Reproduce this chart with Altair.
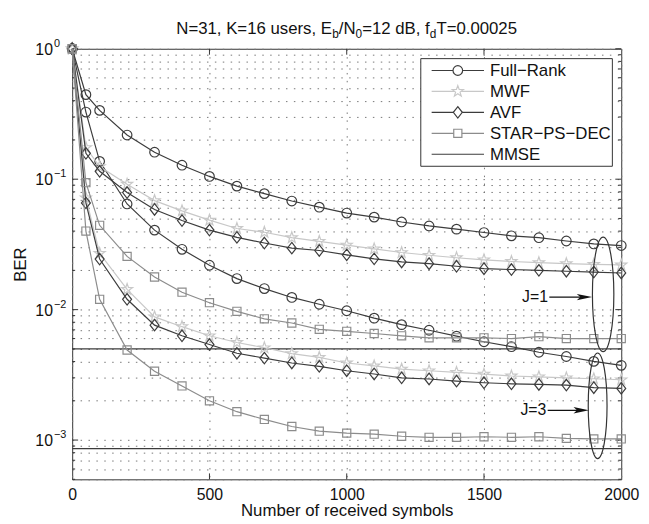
import math
import altair as alt
import pandas as pd

# ---------------- data ----------------
symbols = [0, 50, 100, 200, 300, 400, 500, 600, 700, 800, 900, 1000,
           1100, 1200, 1300, 1400, 1500, 1600, 1700, 1800, 1900, 2000]

full_rank_j1 = [1.0, 0.445, 0.337, 0.218, 0.161, 0.128, 0.105, 0.0885, 0.0775, 0.068, 0.061,
                0.055, 0.0512, 0.047, 0.0438, 0.0414, 0.039, 0.0368, 0.0356, 0.0336, 0.0319, 0.031]
full_rank_j3 = [1.0, 0.327, 0.137, 0.0646, 0.0407, 0.029, 0.0219, 0.0173, 0.0145, 0.0124, 0.011,
                0.0098, 0.0086, 0.00767, 0.00695, 0.00626, 0.00567, 0.0052, 0.00471, 0.00437, 0.00401, 0.00374]
mwf_j1 = [1.0, 0.175, 0.125, 0.0915, 0.0685, 0.0572, 0.0485, 0.0419, 0.0392, 0.0356, 0.0334,
          0.0312, 0.0292, 0.0274, 0.0261, 0.025, 0.0241, 0.0234, 0.0229, 0.0225, 0.0222, 0.022]
mwf_j3 = [1.0, 0.072, 0.027, 0.0143, 0.0088, 0.0074, 0.0063, 0.0056, 0.0051, 0.0046, 0.0043,
          0.0039, 0.0037, 0.0035, 0.0034, 0.0033, 0.0032, 0.0031, 0.00305, 0.003, 0.00295, 0.0029]
avf_j1 = [1.0, 0.158, 0.115, 0.079, 0.0586, 0.0482, 0.0407, 0.0358, 0.0324, 0.0296, 0.0284,
          0.0263, 0.0245, 0.0232, 0.0225, 0.0215, 0.0206, 0.0203, 0.02, 0.0197, 0.0194, 0.0191]
avf_j3 = [1.0, 0.0658, 0.0244, 0.012, 0.0076, 0.0063, 0.0054, 0.00463, 0.00425, 0.0039, 0.00367,
          0.0034, 0.00321, 0.003, 0.00294, 0.00283, 0.00275, 0.0027, 0.00267, 0.00264, 0.00252, 0.00249]
star_j1 = [1.0, 0.094, 0.0443, 0.0256, 0.0178, 0.0136, 0.0113, 0.0097, 0.0085, 0.0079, 0.00706,
           0.00682, 0.00656, 0.0063, 0.00608, 0.00608, 0.00608, 0.006, 0.0062, 0.006, 0.006, 0.006]
star_j3 = [1.0, 0.040, 0.012, 0.0049, 0.00337, 0.0026, 0.002, 0.00165, 0.00144, 0.00127, 0.00117,
           0.00113, 0.00111, 0.00107, 0.00105, 0.00105, 0.00106, 0.00105, 0.00106, 0.00103, 0.00102, 0.00102]
mmse_levels = [0.005, 0.00086]

legend_names = ["Full\u2212Rank", "MWF", "AVF", "STAR\u2212PS\u2212DEC", "MMSE"]
x_ticks = [0, 500, 1000, 1500, 2000]
y_decades = [0.001, 0.01, 0.1, 1.0]
y_exponents = ["\u22123", "\u22122", "\u22121", "0"]
mantissas = [2, 3, 4, 5, 6, 7, 8, 9]
y_minor = [0.0005, 0.0006, 0.0007, 0.0008, 0.0009] + [m * d for d in [0.001, 0.01, 0.1] for m in mantissas]

# annotations (data coordinates)
j_labels = ["J=1", "J=3"]
j_label_x = [1733, 1727]
j_label_y = [0.01247, 0.00169]
arrow_x_start = [1738, 1732]
arrow_x_end = [1862, 1850]
arrow_head_x = [1866, 1854]
ellipse_x = [1934, 1914]
ellipse_y = [0.0131, 0.00183]

# ---------------- styling ----------------
W, H = 556, 436
DARK = "#3c3c3c"
MID = "#8c8c8c"
LIGHT = "#c8c8c8"
FONT = "Liberation Sans"


def star_path(inner=0.4):
    pts = []
    for k in range(10):
        r = 1.0 if k % 2 == 0 else inner
        a = math.radians(-90 + 36 * k)
        pts.append(f"{r * math.cos(a):.3f},{r * math.sin(a):.3f}")
    return "M " + " L ".join(pts) + " Z"


def ellipse_path(a):
    k = 0.5523
    return (f"M 0,-1 C {a*k:.4f},-1 {a:.4f},-{k} {a:.4f},0 "
            f"C {a:.4f},{k} {a*k:.4f},1 0,1 "
            f"C -{a*k:.4f},1 -{a:.4f},{k} -{a:.4f},0 "
            f"C -{a:.4f},-{k} -{a*k:.4f},-1 0,-1 Z")


STAR = star_path()
DIAMOND = "M 0,-1 L 0.78,0 L 0,1 L -0.78,0 Z"
ARROW = "M 1,0 L -1,-0.42 L -0.55,0 L -1,0.42 Z"

xscale = alt.Scale(domain=[0, 2000], nice=False, zero=False)
yscale = alt.Scale(type="log", domain=[0.0005, 1], nice=False)

xaxis = alt.Axis(values=x_ticks, format="d", grid=True, gridDash=[1.5, 6.5], gridColor="#777", gridWidth=1,
                 ticks=False, domain=False, labelFontSize=16, labelColor="#111", labelPadding=7,
                 labelFlush=False, titleFontSize=17, titleFontWeight="normal", titleColor="#111",
                 titlePadding=1)
yaxis = alt.Axis(values=y_decades + y_minor, grid=True, gridDash=[1.5, 6.5], gridColor="#777",
                 gridWidth=1, ticks=False, domain=False, labels=False, titleFontSize=17,
                 titleFontWeight="normal", titleColor="#111", titleX=-52, titleY=H / 2,
                 titleAngle=270, titleAlign="center", titleBaseline="middle")


def X(field="x"):
    return alt.X(f"{field}:Q", scale=xscale, axis=xaxis, title="Number of received symbols")


def Y(field="y"):
    return alt.Y(f"{field}:Q", scale=yscale, axis=yaxis, title="BER")


one = pd.DataFrame({"k": [0]})

# ---------------- long table ----------------
series = [
    ("Full-Rank", "J=1", full_rank_j1), ("Full-Rank", "J=3", full_rank_j3),
    ("MWF", "J=1", mwf_j1), ("MWF", "J=3", mwf_j3),
    ("AVF", "J=1", avf_j1), ("AVF", "J=3", avf_j3),
    ("STAR-PS-DEC", "J=1", star_j1), ("STAR-PS-DEC", "J=3", star_j3),
]
rows = []
for method, j, vals in series:
    for xv, yv in zip(symbols, vals):
        rows.append({"method": method, "J": j, "x": xv, "y": yv})
df = pd.DataFrame(rows)

styles = {
    "Full-Rank": dict(color=DARK, shape="circle", size=95),
    "MWF": dict(color=LIGHT, shape=STAR, size=140),
    "AVF": dict(color=DARK, shape=DIAMOND, size=135),
    "STAR-PS-DEC": dict(color=MID, shape="square", size=68),
}

layers = []

# inward ticks
tick_x_df = pd.DataFrame({"x": x_ticks[1:-1]})
maj_df = pd.DataFrame({"y": y_decades})
min_df = pd.DataFrame({"y": y_minor})
layers.append(alt.Chart(tick_x_df).mark_rule(color="#333").encode(x=X(), y=alt.value(H), y2=alt.value(H - 6)))
layers.append(alt.Chart(tick_x_df).mark_rule(color="#333").encode(x=X(), y=alt.value(0), y2=alt.value(6)))
layers.append(alt.Chart(maj_df).mark_rule(color="#333").encode(y=Y(), x=alt.value(0), x2=alt.value(6)))
layers.append(alt.Chart(maj_df).mark_rule(color="#333").encode(y=Y(), x=alt.value(W), x2=alt.value(W - 6)))
layers.append(alt.Chart(min_df).mark_rule(color="#333").encode(y=Y(), x=alt.value(0), x2=alt.value(3)))
layers.append(alt.Chart(min_df).mark_rule(color="#333").encode(y=Y(), x=alt.value(W), x2=alt.value(W - 3)))

# MMSE lines
layers.append(alt.Chart(pd.DataFrame({"y": mmse_levels})).mark_rule(color=DARK, strokeWidth=1.3).encode(y=Y()))

for method in ["Full-Rank", "MWF", "AVF", "STAR-PS-DEC"]:
    st = styles[method]
    sub = df[df["method"] == method]
    layers.append(alt.Chart(sub).mark_line(color=st["color"], strokeWidth=1.2).encode(
        x=X(), y=Y(), detail="J:N"))
    layers.append(alt.Chart(sub).mark_point(color=st["color"], shape=st["shape"], size=st["size"],
                                            filled=False, strokeWidth=1.2, opacity=1).encode(x=X(), y=Y()))

# ellipses (custom symbol path spans sqrt(size) pixels)
for ex, ey, a, hpx in zip(ellipse_x, ellipse_y, [0.187, 0.178], [116, 107]):
    layers.append(alt.Chart(pd.DataFrame({"x": [ex], "y": [ey]})).mark_point(
        shape=ellipse_path(a), size=hpx * hpx, color="#333", filled=False, strokeWidth=1.2, opacity=1
    ).encode(x=X(), y=Y()))

# arrows and labels
arr_df = pd.DataFrame({"x": arrow_x_start, "x2": arrow_x_end, "y": j_label_y})
layers.append(alt.Chart(arr_df).mark_rule(color="#111", strokeWidth=1.2).encode(
    x=X(), x2="x2:Q", y=Y()))
head_df = pd.DataFrame({"x": arrow_head_x, "y": j_label_y})
layers.append(alt.Chart(head_df).mark_point(shape=ARROW, size=240, filled=True, color="#111", opacity=1).encode(
    x=X(), y=Y()))
lab_df = pd.DataFrame({"x": j_label_x, "y": j_label_y, "label": j_labels})
layers.append(alt.Chart(lab_df).mark_text(align="right", baseline="middle", fontSize=16, color="#111").encode(
    x=X(), y=Y(), text="label:N"))

# y tick labels 10^k
ylab_df = pd.DataFrame({"y": y_decades, "exp": y_exponents})
layers.append(alt.Chart(ylab_df).mark_text(align="right", baseline="middle", fontSize=16, color="#111", dy=1).encode(
    y=Y(), x=alt.value(-19.5), text=alt.value("10")))
layers.append(alt.Chart(ylab_df).mark_text(align="left", baseline="middle", fontSize=11, color="#111", dy=-5).encode(
    y=Y(), x=alt.value(-18.5), text="exp:N"))

# legend
LX0, LX1, LY0, LY1 = 353, 547, 10, 119
layers.append(alt.Chart(one).mark_rect(fill="white", stroke="#333", strokeWidth=1).encode(
    x=alt.value(LX0), x2=alt.value(LX1), y=alt.value(LY0), y2=alt.value(LY1)))
row_y = [22, 43.2, 64.4, 85.6, 106.8]
leg_styles = [styles["Full-Rank"], styles["MWF"], styles["AVF"], styles["STAR-PS-DEC"], dict(color=DARK)]
for name, ry, st in zip(legend_names, row_y, leg_styles):
    layers.append(alt.Chart(one).mark_rule(color=st["color"], strokeWidth=1.2).encode(
        x=alt.value(364), x2=alt.value(417), y=alt.value(ry)))
    if "shape" in st:
        layers.append(alt.Chart(one).mark_point(color=st["color"], shape=st["shape"], size=st["size"],
                                                filled=False, strokeWidth=1.2, opacity=1,
                                                fill="white").encode(
            x=alt.value(390.5), y=alt.value(ry)))
    layers.append(alt.Chart(one).mark_text(text=name, align="left", baseline="middle", fontSize=17,
                                           color="#111").encode(x=alt.value(423), y=alt.value(ry + 1)))

# title with subscripts
title_parts = [("N=31, K=16 users, E", False), ("b", True), ("/N", False), ("0", True),
               ("=12 dB, f", False), ("d", True), ("T=0.00025", False)]
arial = {" ": 278, ",": 278, ".": 278, "/": 278, "=": 584, "N": 722, "K": 667, "E": 667, "T": 611,
         "B": 667, "b": 556, "d": 556, "u": 556, "s": 500, "e": 556, "r": 333, "f": 278}
MAIN_FS, SUB_FS = 17, 12


def text_w(s, fs):
    return sum(arial.get(c, 556) for c in s) * fs / 1000.0


total = sum(text_w(t, SUB_FS if sub else MAIN_FS) for t, sub in title_parts)
cx = W / 2 - total / 2
for t, sub in title_parts:
    fs = SUB_FS if sub else MAIN_FS
    layers.append(alt.Chart(one).mark_text(text=t, align="left", baseline="alphabetic", fontSize=fs,
                                           color="#111").encode(
        x=alt.value(cx), y=alt.value(-11 if sub else -15)))
    cx += text_w(t, fs)

chart = alt.layer(*layers).properties(
    width=W, height=H,
    autosize=alt.AutoSizeParams(type="none"),
    padding={"left": 65, "top": 38, "right": 20, "bottom": 45},
    background="white",
).configure(font=FONT).configure_view(stroke="#333", strokeWidth=1)

chart.save("out.html", embed_options={"renderer": "svg", "actions": False})
